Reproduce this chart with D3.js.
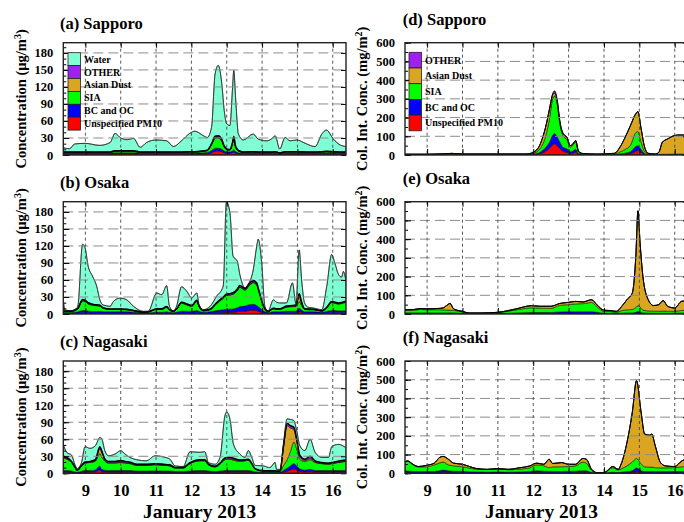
<!DOCTYPE html>
<html>
<head>
<meta charset="utf-8">
<script src="https://cdn.jsdelivr.net/npm/d3@7"></script>
<style>
body { margin: 0; background: #fff; }
text { font-family: "Liberation Serif", "Times New Roman", serif; font-weight: bold; fill: #000; }
</style>
</head>
<body>
<div id="chart"></div>
<script>
// ---- data (days of January 2013) ----
var days = [9, 10, 11, 12, 13, 14, 15, 16];
var concTicks = [0, 30, 60, 90, 120, 150, 180];
var colTicks = [0, 100, 200, 300, 400, 500, 600];
var concLegend = ["Water", "OTHER", "Asian Dust", "SIA", "BC and OC", "Unspecified PM10"];
var colLegend = ["OTHER", "Asian Dust", "SIA", "BC and OC", "Unspecified PM10"];

// (a) Sapporo surface concentration (ug/m3)
var sapporoConcT = [8.375, 8.55, 8.7, 9.0, 9.4, 9.7, 9.84, 10.0, 10.2, 10.36, 10.55, 10.73, 11.0, 11.3, 11.49, 11.72, 11.95, 12.1, 12.34, 12.45, 12.57, 12.67, 12.76, 12.86, 12.93, 13.0, 13.09, 13.16, 13.2, 13.25, 13.33, 13.47, 13.75, 13.89, 14.13, 14.3, 14.37, 14.5, 14.65, 14.79, 14.98, 15.26, 15.5, 15.69, 15.82, 16.02, 16.2, 16.375];
var sapporoConcPM = [1.5, 1.5, 1.5, 1.5, 1.5, 1.5, 2, 2, 2, 2, 1.5, 1.5, 1.5, 1.5, 1.5, 1.5, 1.5, 1.5, 2, 2, 4, 7, 7.5, 6, 4, 3, 3, 4, 5, 3, 2, 1.5, 1.5, 1.5, 1.5, 1.5, 1.5, 1, 1.5, 1.5, 1.5, 1.5, 1.5, 1.5, 1.5, 1.5, 1.5, 1.5];
var sapporoConcBC = [1.5, 1.5, 1.5, 1.5, 1.5, 1.5, 2, 2, 2, 2, 1.5, 1.5, 1.5, 1.5, 1.5, 1.5, 1.5, 1.5, 2, 2.5, 4, 5, 4.5, 4, 3, 2.5, 2.5, 3, 4, 3, 2, 1.5, 1.5, 1.5, 1.5, 1.5, 1.5, 1, 1.5, 1.5, 1.5, 1.5, 1.5, 1.5, 1.5, 1.5, 1.5, 1.5];
var sapporoConcSIA = [1.5, 1.5, 1.5, 1.5, 1.5, 1.5, 2.5, 2.5, 2.5, 2.5, 1.5, 1.5, 1.5, 1.5, 1.5, 1.5, 2, 2, 2.5, 3, 10, 17, 18, 14, 7, 4, 3, 12, 20, 8, 3, 1.5, 2, 1.5, 1.5, 1.5, 2, 1, 2, 2, 2, 1.5, 1.5, 2, 2.5, 2, 1.5, 1.5];
var sapporoConcDust = [0.2, 0.2, 0.2, 0.2, 0.2, 0.2, 0.2, 0.2, 0.2, 0.2, 0.2, 0.2, 0.2, 0.2, 0.2, 0.2, 0.2, 0.2, 0.2, 0.2, 0.5, 1, 1, 1, 0.5, 0.3, 0.3, 0.5, 0.5, 0.3, 0.2, 0.2, 0.2, 0.2, 0.2, 0.2, 0.2, 0.2, 0.2, 0.2, 0.2, 0.2, 0.2, 0.2, 0.2, 0.2, 0.2, 0.2];
var sapporoConcOther = [0.8, 0.8, 0.8, 0.8, 0.8, 0.8, 1, 1, 1, 1, 0.8, 0.8, 0.8, 0.8, 0.8, 0.8, 0.8, 0.8, 0.8, 0.8, 1.5, 3, 3, 2.5, 1.5, 1, 1, 2, 3, 1.5, 1, 0.8, 0.8, 0.8, 0.8, 0.8, 0.8, 0.6, 0.8, 0.8, 0.8, 0.8, 0.8, 0.8, 0.8, 0.8, 0.8, 0.8];
var sapporoConcWater = [7.5, 5.5, 14, 15, 11.5, 16.5, 30.3, 22.3, 19.3, 21.8, 8.1, 16.5, 21, 19.5, 9.5, 19.5, 32, 36, 26.5, 22.5, 29, 110, 124, 98.5, 62, 44.2, 42.2, 92.5, 116.5, 86.2, 28.8, 21, 31, 22.5, 19.5, 24.5, 28, 6.8, 25, 19, 20.5, 14, 9.3, 31, 37.5, 22, 12.5, 9.5];

// (b) Osaka surface concentration
var osakaConcT = [8.375, 8.42, 8.6, 8.78, 8.92, 8.99, 9.08, 9.2, 9.32, 9.41, 9.5, 9.7, 9.79, 9.98, 10.17, 10.36, 10.64, 10.78, 11.02, 11.16, 11.3, 11.38, 11.49, 11.58, 11.72, 11.87, 12.01, 12.15, 12.22, 12.34, 12.53, 12.71, 12.9, 12.99, 13.09, 13.18, 13.3, 13.37, 13.52, 13.61, 13.75, 13.85, 13.89, 13.99, 14.08, 14.17, 14.32, 14.41, 14.5, 14.69, 14.86, 14.96, 15.05, 15.12, 15.2, 15.3, 15.45, 15.69, 15.83, 15.97, 16.06, 16.16, 16.25, 16.3, 16.375];
var osakaConcPM = [1, 1, 1, 1.5, 2, 2, 2, 1.5, 1.5, 1.5, 1.5, 1.5, 1.5, 1.5, 1.5, 1, 0.8, 0.8, 1, 1, 1.2, 1, 0.8, 1, 1.5, 1.5, 1.5, 2, 1.5, 1, 1.5, 2, 2.5, 3, 3, 3, 4, 5, 5, 6, 7, 6, 5, 3, 1.5, 1, 1.5, 1.5, 1.5, 2, 2, 2, 4, 3, 1.5, 1.5, 1.5, 1, 1.5, 2, 2, 2, 2, 2, 2];
var osakaConcBC = [1.5, 1.5, 1.5, 2, 4, 4, 3, 3, 3, 3, 2.5, 2.5, 2.5, 2.5, 2.5, 2, 1.2, 1.2, 2, 2, 2.5, 2, 1.5, 2, 3.5, 3.5, 3, 4, 3, 2, 2.5, 4, 5, 5.5, 5.5, 6, 7, 8, 9, 10, 10, 9, 8, 5, 2.5, 1.5, 2.5, 2.5, 2.5, 3, 3, 3, 6, 4, 2.5, 2.5, 2.5, 2, 3, 4, 4, 3.5, 3.5, 3.5, 3.5];
var osakaConcSIA = [2, 2, 2, 5, 17, 16, 13, 11, 10, 9.5, 6, 4, 4, 4, 3.5, 2.5, 1, 1.5, 5, 5, 8, 4, 2, 5, 14, 11, 9, 16, 8, 2.5, 3.5, 12, 20, 24, 25, 26, 30, 34, 28, 32, 38, 36, 30, 14, 4, 1.5, 5, 4, 4, 7, 8, 8, 12, 8, 4, 3.5, 3.5, 2, 6, 14, 13, 12, 13, 14, 15];
var osakaConcDust = [0.2, 0.2, 0.2, 0.3, 0.5, 0.5, 0.5, 0.5, 0.5, 0.5, 0.3, 0.2, 0.2, 0.2, 0.2, 0.2, 0.1, 0.1, 0.3, 0.3, 0.3, 0.2, 0.1, 0.2, 0.5, 0.5, 0.3, 0.5, 0.3, 0.2, 0.2, 0.5, 0.5, 0.5, 0.5, 0.5, 0.5, 0.5, 0.5, 0.8, 1, 1, 1, 0.5, 0.3, 0.2, 0.3, 0.3, 0.3, 0.5, 0.5, 1, 8, 3, 0.5, 0.3, 0.3, 0.2, 0.3, 0.5, 0.5, 0.5, 0.5, 0.5, 0.5];
var osakaConcOther = [0.8, 0.8, 0.8, 1, 2, 2, 1.5, 1.5, 1.2, 1.2, 1, 0.8, 0.8, 0.8, 0.8, 0.7, 0.5, 0.5, 1, 1, 1.2, 0.8, 0.6, 0.8, 1.5, 1.5, 1.2, 2, 1.2, 0.8, 0.8, 1.5, 2, 2, 2, 2, 2.5, 3, 2.5, 3, 3, 3, 2.5, 1.5, 1, 0.6, 1, 1, 1, 1.5, 1.5, 2, 6, 3, 1, 1, 0.8, 0.6, 1, 1.5, 1.5, 1.5, 1.5, 1.5, 1.5];
var osakaConcWater = [21.5, 1.5, 0.5, 2.2, 97.5, 92.5, 64, 49.5, 32.8, 9.3, 4.7, 4.6, 13, 19, 16.5, 7.2, 1.1, 0.9, 27.7, 24.7, 36.8, 5.6, 0.5, 4.6, 27, 22, 13, 12.5, 2, 1.2, 5.1, 11, 19, 163, 143, 64.5, 49, 19.5, 1, 0.5, 19, 65, 85.5, 66, 4.3, 0.2, 14.7, 11.4, 10.2, 5.5, 40, 2, 77, 39, 10.5, 3.2, 2, 1.9, 37.2, 83, 69, 50.5, 44.5, 53.5, 35.5];

// (c) Nagasaki surface concentration
var nagasakiConcT = [8.375, 8.47, 8.61, 8.7, 8.77, 8.89, 8.99, 9.13, 9.28, 9.41, 9.46, 9.55, 9.65, 9.84, 10.0, 10.12, 10.26, 10.45, 10.73, 10.97, 11.2, 11.39, 11.54, 11.77, 11.96, 12.24, 12.38, 12.48, 12.67, 12.81, 12.95, 13.0, 13.09, 13.19, 13.37, 13.52, 13.61, 13.71, 13.8, 14.04, 14.22, 14.37, 14.41, 14.51, 14.6, 14.71, 14.8, 14.9, 14.98, 15.07, 15.21, 15.36, 15.5, 15.69, 15.88, 15.97, 16.16, 16.375];
var nagasakiConcPM = [2, 2, 1.5, 1, 0.8, 1.5, 2, 2, 2.5, 6, 3, 2.5, 2, 2, 2, 2, 2, 1.5, 1.5, 1.5, 1.5, 1.5, 1.2, 1.2, 1.5, 2, 2, 1.5, 1.2, 1.5, 2, 2, 2, 2, 2, 2, 2, 1.5, 1, 0.8, 0.8, 0.8, 0.8, 0.8, 2, 4, 6, 8, 6, 3.5, 2.5, 3, 2, 2, 2, 2, 2, 2];
var nagasakiConcBC = [3, 3, 2.5, 1.5, 1, 2, 3, 3, 3.5, 7, 4, 3, 3, 3, 3, 3, 3, 2.5, 2.5, 2.5, 2.5, 2.5, 2, 2, 2.5, 3, 3, 2.5, 2, 2.5, 3, 3, 3, 3, 3, 3, 3, 2.5, 1.5, 1, 1, 1, 1, 1, 3, 5, 7, 9, 7, 4, 3, 4, 3, 3, 3, 3, 3, 3];
var nagasakiConcSIA = [22, 20, 15, 8, 3, 9, 13, 14, 15, 22, 22, 16, 13, 13, 14, 13, 12, 10, 10, 11, 10, 9, 6, 6, 13, 17, 17, 11, 8, 12, 19, 20, 20, 18, 16, 17, 18, 12, 5, 2, 2, 2, 1.5, 1.5, 8, 15, 25, 38, 30, 17, 15, 17, 14, 12, 11, 12, 14, 16];
var nagasakiConcDust = [1, 1, 0.5, 0.3, 0.2, 0.5, 0.5, 0.5, 1, 8, 8, 1.5, 1, 1, 1, 1, 0.8, 0.5, 0.5, 0.5, 0.5, 0.5, 0.3, 0.3, 0.5, 0.5, 0.5, 0.3, 0.3, 0.5, 1, 1, 1, 1.5, 1, 0.5, 0.5, 0.3, 0.2, 0.2, 0.2, 0.2, 0.2, 0.5, 30, 60, 42, 22, 14, 4, 2, 2, 1, 0.5, 0.5, 0.5, 0.5, 0.5];
var nagasakiConcOther = [2, 2, 1.5, 1, 0.5, 1, 1.5, 1.5, 2, 4, 3, 2.5, 2, 2, 2.5, 2, 2, 1.5, 1.5, 1.5, 1.5, 1.5, 1, 1, 1.5, 1.5, 1.5, 1, 1, 1.5, 2, 2, 2, 2, 1.5, 1.5, 1.5, 1, 0.6, 0.5, 0.5, 0.5, 0.5, 0.5, 2, 4, 4, 4, 3.5, 3, 2.5, 4, 2, 1.5, 1.5, 1.5, 2, 2];
var nagasakiConcWater = [21, 9, 11, 4.2, 2.8, 5, 27, 23, 24.5, 16, 21.5, 14.5, 10, 13, 17.5, 13, 8.2, 8, 6, 14, 13, 10, 2.5, 1.5, 19, 13, 14, 2.7, 3.5, 10, 75, 80, 68, 25, 10.5, 4, 15, 10.7, 5.7, 8.5, 5.5, 14.5, 3, 2.7, 5, 8, 11, 12, 14.5, 17, 15, 30, 15, 9, 10, 28, 29.5, 21.5];

// (d) Sapporo column integrated concentration (mg/m2)
var sapporoColT = [8.375, 9.0, 9.5, 9.7, 10.0, 11.0, 11.8, 12.0, 12.2, 12.35, 12.45, 12.55, 12.6, 12.68, 12.75, 12.85, 12.95, 13.05, 13.12, 13.2, 13.28, 13.4, 13.8, 14.3, 14.45, 14.6, 14.75, 14.9, 14.96, 15.05, 15.15, 15.25, 15.45, 15.55, 15.65, 15.8, 16.0, 16.15, 16.375];
var sapporoColPM = [0.5, 0.5, 0.5, 0.5, 0.5, 0.5, 0.5, 2, 8, 20, 35, 55, 60, 50, 35, 20, 15, 8, 10, 15, 4, 1.5, 0.5, 1, 3, 5, 8, 20, 25, 15, 3, 1, 0.5, 0.5, 1, 1, 1, 1, 1];
var sapporoColBC = [0.5, 0.5, 0.5, 0.5, 0.5, 0.5, 0.5, 2, 8, 20, 30, 50, 55, 45, 35, 20, 18, 10, 12, 15, 4, 1.5, 0.5, 1, 3, 5, 10, 25, 25, 15, 4, 1, 0.5, 0.5, 1, 1, 1, 1, 1];
var sapporoColSIA = [2, 2, 4, 6, 3, 3, 3, 5, 20, 60, 120, 195, 200, 175, 100, 60, 50, 25, 30, 40, 8, 3, 2.5, 3, 10, 20, 35, 75, 75, 40, 10, 3, 2, 2, 2, 2, 3, 3, 3];
var sapporoColDust = [1, 1, 1, 1.5, 1, 1, 1, 5, 23, 49, 50, 22, 15, 15, 12, 12, 12, 7, 7, 7, 4, 2, 1, 4, 25, 65, 105, 100, 105, 70, 24, 4, 2, 11, 64, 82, 99, 102, 100];
var sapporoColOther = [0.3, 0.3, 0.3, 0.3, 0.3, 0.3, 0.3, 0.2, 0.3, 0.5, 3, 4, 12, 7, 2, 1, 0.5, 0.3, 0.3, 0.5, 0.3, 0.3, 0.3, 0.3, 0.5, 0.5, 0.5, 1, 3, 1, 0.5, 0.3, 0.3, 0.3, 0.3, 0.3, 0.3, 0.3, 0.3];

// (e) Osaka column integrated concentration
var osakaColT = [8.375, 8.6, 8.8, 9.0, 9.3, 9.45, 9.55, 9.65, 9.75, 10.0, 10.2, 10.5, 11.0, 11.5, 11.95, 12.2, 12.5, 12.75, 13.0, 13.2, 13.4, 13.65, 13.8, 14.0, 14.2, 14.35, 14.5, 14.65, 14.8, 14.9, 14.96, 15.02, 15.1, 15.25, 15.4, 15.55, 15.67, 15.8, 16.0, 16.2, 16.375];
var osakaColPM = [2, 2, 2, 2, 2, 2, 2, 2, 2, 1, 0.5, 0.5, 0.5, 1.5, 2, 2, 2, 3, 3, 3, 3, 3, 2, 1, 1, 1, 1.5, 2, 2, 3, 5, 4, 2, 1.5, 1, 1, 1, 1, 1, 1.5, 1.5];
var osakaColBC = [4, 4, 4, 4, 4, 4, 4, 4, 4, 3, 1.5, 1.5, 2, 4, 6, 6, 6, 8, 9, 9, 9, 9, 7, 3, 3, 2, 3, 4, 4, 6, 8, 6, 4, 3, 3, 3, 3, 3, 3, 3.5, 3.5];
var osakaColSIA = [14, 14, 18, 17, 17, 16, 15, 14, 13, 8, 2.5, 2.5, 5, 16, 25, 23, 22, 35, 38, 42, 43, 50, 30, 10, 9, 6, 14, 16, 18, 25, 32, 28, 15, 12, 11, 11, 12, 11, 11, 14, 15];
var osakaColDust = [3, 3, 5, 4, 6, 10, 24, 36, 8, 2, 0.5, 0.5, 1.5, 5, 11, 10, 11, 10, 12, 13, 9, 14, 10, 6, 5, 5, 22, 55, 88, 275, 505, 343, 180, 60, 30, 35, 56, 26, 17, 49, 50];
var osakaColOther = [0.5, 0.5, 0.5, 0.5, 0.5, 0.5, 0.5, 0.5, 0.5, 0.3, 0.2, 0.2, 0.2, 0.5, 0.5, 0.5, 0.5, 0.5, 0.5, 0.5, 0.5, 0.5, 0.5, 0.3, 0.3, 0.3, 0.3, 0.3, 0.5, 1, 2, 1, 1, 0.5, 0.3, 0.3, 0.3, 0.3, 0.3, 0.3, 0.3];

// (f) Nagasaki column integrated concentration
var nagasakiColT = [8.375, 8.45, 8.6, 8.75, 9.0, 9.2, 9.35, 9.45, 9.6, 9.75, 10.0, 10.2, 10.4, 10.7, 11.0, 11.3, 11.6, 11.9, 12.1, 12.3, 12.45, 12.55, 12.8, 13.0, 13.2, 13.4, 13.5, 13.65, 13.8, 14.0, 14.25, 14.4, 14.5, 14.65, 14.8, 14.92, 15.05, 15.15, 15.3, 15.35, 15.45, 15.6, 15.75, 16.0, 16.2, 16.375];
var nagasakiColPM = [4, 4, 3, 3, 3, 3, 4, 6, 4, 3, 3, 2, 2, 2, 2, 2, 2, 3, 4, 3, 3, 3, 3, 3, 3, 4, 4, 1, 0.3, 0.3, 2, 1, 2, 3, 5, 8, 5, 3, 3, 3, 3, 3, 3, 3, 3, 3];
var nagasakiColBC = [8, 8, 7, 6, 6, 7, 9, 11, 9, 8, 7, 6, 5, 4, 5, 4, 5, 6, 9, 8, 7, 7, 7, 7, 8, 10, 9, 3, 0.5, 0.5, 4, 3, 4, 6, 9, 20, 9, 6, 6, 6, 6, 6, 6, 6, 7, 7];
var nagasakiColSIA = [48, 52, 36, 25, 26, 35, 42, 43, 32, 29, 25, 20, 15, 14, 16, 13, 15, 20, 32, 29, 20, 24, 25, 26, 29, 46, 42, 11, 2, 2, 24, 14, 19, 31, 46, 52, 36, 26, 24, 24, 21, 20, 20, 21, 25, 27];
var nagasakiColDust = [1, 2, 2, 2, 8, 9, 29, 30, 30, 14, 13, 8, 3, 1, 2, 2, 7, 10, 9, 8, 45, 18, 22, 12, 8, 19, 20, 6, 1, 1, 6, 3, 32, 125, 265, 414, 275, 174, 170, 176, 116, 27, 10, 6, 31, 43];
var nagasakiColOther = [0.5, 0.5, 0.3, 0.3, 0.3, 0.3, 0.5, 0.5, 0.5, 0.3, 0.3, 0.3, 0.3, 0.3, 0.3, 0.3, 0.3, 0.3, 0.3, 0.3, 0.3, 0.3, 0.3, 0.3, 0.3, 0.5, 0.5, 0.3, 0.2, 0.2, 0.3, 0.3, 0.3, 0.5, 1, 2, 1, 1, 1, 1, 1, 0.5, 0.3, 0.3, 0.3, 0.3];

// ---- layout ----
var width = 684,
    height = 522,
    plotH = 112.3,
    colRange = [[63.3, 346], [405, 688]],
    rowTop = [42.7, 201.7, 361],
    titleY = [[29.3, 25.3], [188.3, 184.3], [347.3, 343.3]],
    titleX = [60, 402.7],
    xDomain = [8.375, 16.375],
    keys = ["pm", "bcoc", "sia", "dust", "other", "water"],
    colors = {pm: "#ff0000", bcoc: "#0000ff", sia: "#00ff00", dust: "#daa520", other: "#a020f0", water: "#7fffd4"},
    legendKeys = {Water: "water", OTHER: "other", "Asian Dust": "dust", SIA: "sia", "BC and OC": "bcoc", "Unspecified PM10": "pm"};

var panels = [
    {title: "(a) Sapporo", col: 0, row: 0, t: sapporoConcT, v: [sapporoConcPM, sapporoConcBC, sapporoConcSIA, sapporoConcDust, sapporoConcOther, sapporoConcWater]},
    {title: "(b) Osaka", col: 0, row: 1, t: osakaConcT, v: [osakaConcPM, osakaConcBC, osakaConcSIA, osakaConcDust, osakaConcOther, osakaConcWater]},
    {title: "(c) Nagasaki", col: 0, row: 2, t: nagasakiConcT, v: [nagasakiConcPM, nagasakiConcBC, nagasakiConcSIA, nagasakiConcDust, nagasakiConcOther, nagasakiConcWater]},
    {title: "(d) Sapporo", col: 1, row: 0, t: sapporoColT, v: [sapporoColPM, sapporoColBC, sapporoColSIA, sapporoColDust, sapporoColOther]},
    {title: "(e) Osaka", col: 1, row: 1, t: osakaColT, v: [osakaColPM, osakaColBC, osakaColSIA, osakaColDust, osakaColOther]},
    {title: "(f) Nagasaki", col: 1, row: 2, t: nagasakiColT, v: [nagasakiColPM, nagasakiColBC, nagasakiColSIA, nagasakiColDust, nagasakiColOther]}
];

var svg = d3.select("#chart").append("svg")
    .attr("width", width)
    .attr("height", height);

var drawPanel = function(p, pi) {
    var conc = p.col == 0;
    var top = rowTop[p.row];
    var x = d3.scaleLinear().domain(xDomain).range(colRange[p.col]);
    var y = d3.scaleLinear()
        .domain(conc ? [0, 198] : [0, 600])
        .range([top + plotH, top]);
    var ticks = conc ? concTicks : colTicks;
    var minor = conc ? d3.range(0, 200, 10) : d3.range(0, 601, 50);
    var pkeys = keys.slice(0, p.v.length);

    var g = svg.append("g").attr("id", "panel-" + pi);

    g.append("clipPath").attr("id", "clip" + pi)
        .append("rect")
        .attr("x", x.range()[0]).attr("y", top)
        .attr("width", x.range()[1] - x.range()[0]).attr("height", plotH);

    // stacked layers
    var rows = p.t.map(function(d, i) {
        var r = {t: d};
        pkeys.forEach(function(k, j) { r[k] = p.v[j][i]; });
        return r;
    });
    var series = d3.stack().keys(pkeys)(rows);
    var area = d3.area()
        .curve(d3.curveMonotoneX)
        .x(function(d) { return x(d.data.t); })
        .y0(function(d) { return y(d[0]); })
        .y1(function(d) { return y(d[1]); });
    var topLine = d3.line()
        .curve(d3.curveMonotoneX)
        .x(function(d) { return x(d.data.t); })
        .y(function(d) { return y(d[1]); });

    var chart = g.append("g").attr("clip-path", "url(#clip" + pi + ")");
    chart.selectAll("path.layer")
        .data(series)
        .enter().append("path")
            .attr("class", "layer")
            .attr("d", area)
            .attr("fill", function(d) { return colors[d.key]; })
            .attr("stroke", "#000")
            .attr("stroke-width", 0.5);
    // thick outline on top of the aerosol (non-water) stack
    var other = series.filter(function(s) { return s.key == "other"; })[0];
    chart.append("path")
        .attr("d", topLine(other))
        .attr("fill", "none")
        .attr("stroke", "#000")
        .attr("stroke-width", conc ? 1.4 : 0.9);
    if (conc) {
        chart.append("path")
            .attr("d", topLine(series[series.length - 1]))
            .attr("fill", "none")
            .attr("stroke", "#222")
            .attr("stroke-width", 0.7);
    }

    // grid on top of the areas
    g.append("g").selectAll("line")
        .data(ticks.slice(1, ticks.length - (conc ? 0 : 1)))
        .enter().append("line")
            .attr("x1", x.range()[0]).attr("x2", x.range()[1])
            .attr("y1", function(d) { return y(d); }).attr("y2", function(d) { return y(d); })
            .attr("stroke", "#8c8c8c")
            .attr("stroke-width", 1)
            .attr("stroke-dasharray", "10,5");
    g.append("g").selectAll("line")
        .data(days)
        .enter().append("line")
            .attr("x1", function(d) { return x(d); }).attr("x2", function(d) { return x(d); })
            .attr("y1", top).attr("y2", top + plotH)
            .attr("stroke", "#444")
            .attr("stroke-width", 0.9)
            .attr("stroke-dasharray", "3,3");

    // axes
    var yAxis = d3.axisLeft(y).tickValues(ticks).tickSize(-6).tickPadding(10);
    var ya = g.append("g")
        .attr("transform", "translate(" + x.range()[0] + ",0)")
        .call(yAxis);
    ya.selectAll("text").attr("font-size", 12.5).attr("font-family", null);
    g.append("g")
        .attr("transform", "translate(" + x.range()[0] + ",0)")
        .call(d3.axisLeft(y).tickValues(minor).tickSize(-3).tickFormat(""));
    g.append("g")
        .attr("transform", "translate(" + x.range()[1] + ",0)")
        .call(d3.axisRight(y).tickValues(ticks).tickSize(-5).tickFormat(""));

    var xa = g.append("g")
        .attr("transform", "translate(0," + (top + plotH) + ")")
        .call(d3.axisBottom(x).tickValues(days).tickSize(-6).tickPadding(11)
            .tickFormat(p.row == 2 ? d3.format("d") : ""));
    xa.selectAll("text").attr("font-size", 16.5).attr("font-family", null);
    g.append("g")
        .attr("transform", "translate(0," + top + ")")
        .call(d3.axisTop(x).tickValues(days).tickSize(-5).tickFormat(""));
    g.selectAll(".domain").remove();
    g.selectAll(".tick line").attr("stroke", "#000").attr("stroke-width", 1);

    g.append("rect")
        .attr("x", x.range()[0]).attr("y", top)
        .attr("width", x.range()[1] - x.range()[0]).attr("height", plotH)
        .attr("fill", "none")
        .attr("stroke", "#222")
        .attr("stroke-width", 1.4);

    // titles
    g.append("text")
        .attr("x", titleX[p.col])
        .attr("y", titleY[p.row][p.col])
        .attr("font-size", 16.5)
        .text(p.title);

    var yl = g.append("text")
        .attr("transform", "translate(" + (conc ? 26 : 367) + "," + (top + plotH / 2) + ") rotate(-90)")
        .attr("text-anchor", "middle")
        .attr("font-size", 14.5);
    yl.append("tspan").text(conc ? "Concentration (\u03bcg/m" : "Col. Int. Conc. (mg/m");
    yl.append("tspan").attr("dy", -5).attr("font-size", 10).text(conc ? "3" : "2");
    yl.append("tspan").attr("dy", 5).text(")");

    if (p.row == 2) {
        g.append("text")
            .attr("x", (x.range()[0] + x.range()[1]) / 2 - 5)
            .attr("y", 517.5)
            .attr("text-anchor", "middle")
            .attr("font-size", 19.5)
            .text("January 2013");
    }

    // legend
    if (p.row == 0) {
        var names = conc ? concLegend : colLegend;
        var lx = conc ? 68 : 409,
            ly = conc ? 52.7 : 52.3,
            lh = conc ? 12.9 : 15.7;
        var leg = g.append("g").attr("class", "legend");
        names.forEach(function(n, i) {
            leg.append("rect")
                .attr("x", lx).attr("y", ly + i * lh)
                .attr("width", 12.5).attr("height", lh)
                .attr("fill", colors[legendKeys[n]])
                .attr("stroke", "#222")
                .attr("stroke-width", 0.8);
            leg.append("text")
                .attr("x", lx + 16)
                .attr("y", ly + i * lh + lh / 2 + 3.5)
                .attr("font-size", 10)
                .text(n);
        });
    }
};

panels.forEach(drawPanel);
</script>
</body>
</html>
